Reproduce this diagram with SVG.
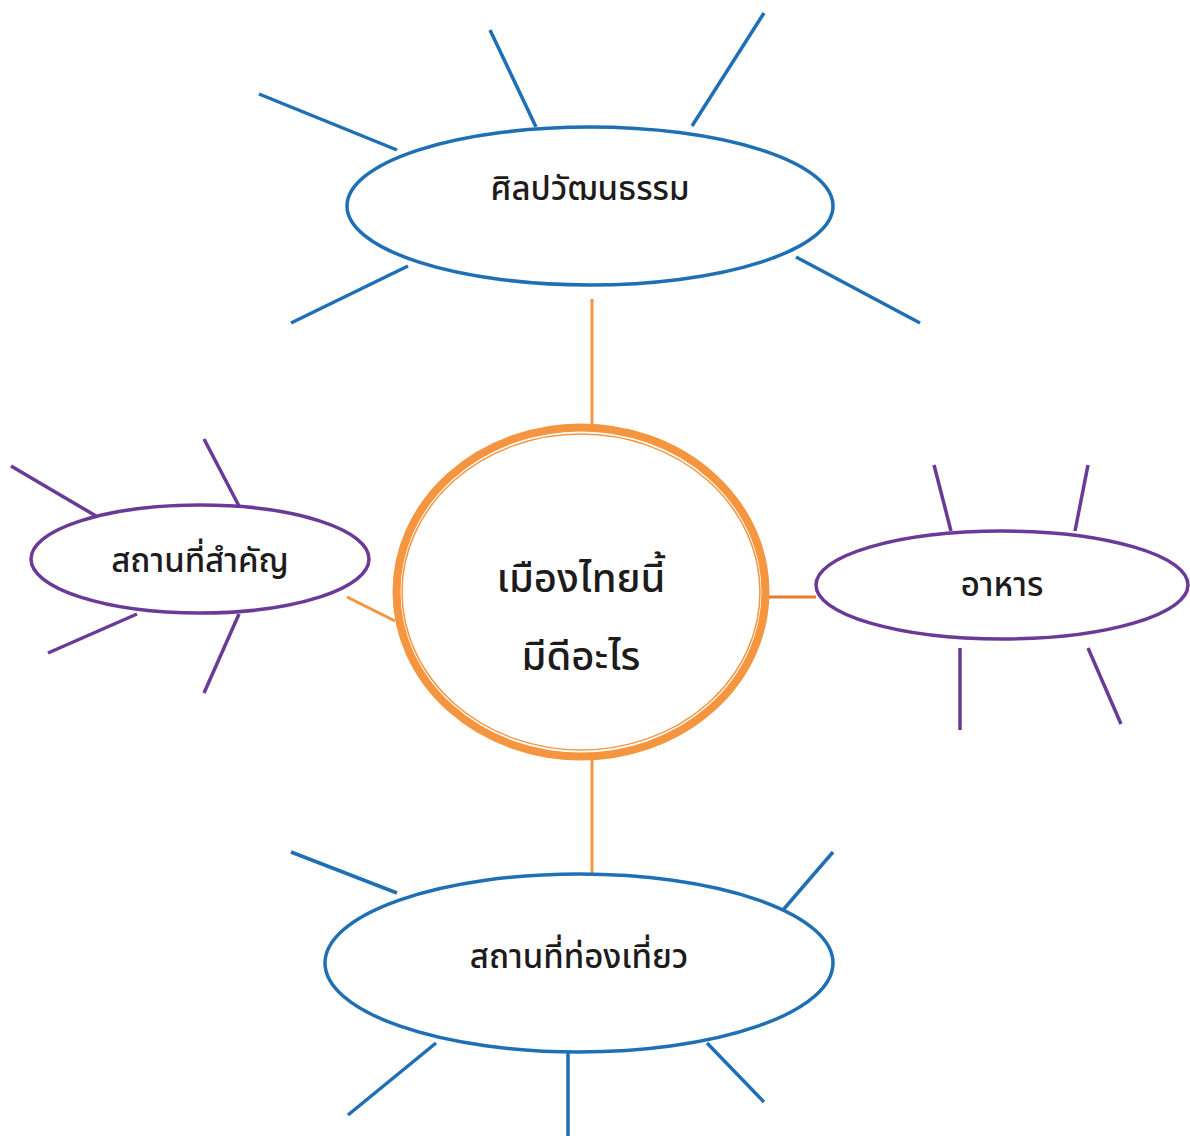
<svg xmlns="http://www.w3.org/2000/svg" width="1190" height="1136" viewBox="0 0 1190 1136">
<style>
.blue{fill:none;stroke:#1f6fb5;stroke-width:3.5}
.purple{fill:none;stroke:#6b3a96;stroke-width:3.5}
.org{fill:none;stroke:#f5953f;stroke-width:3}
.ray-b{stroke:#1f6fb5;stroke-width:3.5;fill:none}
.ray-p{stroke:#6b3a96;stroke-width:3.5;fill:none}
.lbl{font-family:"Noto Sans","Noto Sans Thai",Tahoma,sans-serif;fill:#1e1b1c;text-anchor:middle;font-weight:500}
</style>
<rect width="1190" height="1136" fill="#fff"/>
<g id="connectors">
<line class="org" x1="592" y1="299" x2="592" y2="426"/>
<line class="org" x1="592" y1="760" x2="592" y2="874"/>
<line class="org" x1="347" y1="597" x2="395" y2="621"/>
<line class="org" x1="768" y1="597" x2="816" y2="597" style="stroke:#ea7a2c"/>
</g>
<g id="center">
<ellipse cx="581" cy="592" rx="184.5" ry="164.5" fill="#fff" stroke="#f5953f" stroke-width="8"/>
<ellipse cx="581" cy="592" rx="179" ry="158" fill="none" stroke="#f5953f" stroke-width="1.5"/>
<text class="lbl" x="581" y="592" font-size="40">เมืองไทยนี้</text>
<text class="lbl" x="581" y="670" font-size="40">มีดีอะไร</text>
</g>
<g id="culture">
<ellipse class="blue" cx="590" cy="206" rx="243" ry="79"/>
<text class="lbl" x="590" y="200" font-size="33">ศิลปวัฒนธรรม</text>
<line class="ray-b" x1="259" y1="94" x2="397" y2="150"/>
<line class="ray-b" x1="490" y1="30" x2="536" y2="127"/>
<line class="ray-b" x1="764" y1="13" x2="692" y2="126"/>
<line class="ray-b" x1="291" y1="323" x2="408" y2="266"/>
<line class="ray-b" x1="796" y1="257" x2="920" y2="323"/>
</g>
<g id="landmarks">
<ellipse class="purple" cx="200" cy="559" rx="169" ry="54"/>
<text class="lbl" x="200" y="572" font-size="33">สถานที่สำคัญ</text>
<line class="ray-p" x1="11" y1="466" x2="96" y2="516"/>
<line class="ray-p" x1="204" y1="439" x2="239" y2="506"/>
<line class="ray-p" x1="48" y1="653" x2="137" y2="614"/>
<line class="ray-p" x1="204" y1="693" x2="239" y2="614"/>
</g>
<g id="food">
<ellipse class="purple" cx="1002" cy="585" rx="186" ry="54"/>
<text class="lbl" x="1002" y="596" font-size="33">อาหาร</text>
<line class="ray-p" x1="934" y1="465" x2="951" y2="531"/>
<line class="ray-p" x1="1088" y1="465" x2="1075" y2="531"/>
<line class="ray-p" x1="960" y1="648" x2="960" y2="730"/>
<line class="ray-p" x1="1088" y1="648" x2="1121" y2="724"/>
</g>
<g id="tourism">
<ellipse class="blue" cx="579" cy="963" rx="254" ry="89"/>
<text class="lbl" x="579" y="968" font-size="33">สถานที่ท่องเที่ยว</text>
<line class="ray-b" x1="291" y1="852" x2="397" y2="893"/>
<line class="ray-b" x1="833" y1="852" x2="783" y2="910"/>
<line class="ray-b" x1="348" y1="1115" x2="436" y2="1043"/>
<line class="ray-b" x1="568" y1="1053" x2="568" y2="1136"/>
<line class="ray-b" x1="707" y1="1043" x2="764" y2="1102"/>
</g>
</svg>
